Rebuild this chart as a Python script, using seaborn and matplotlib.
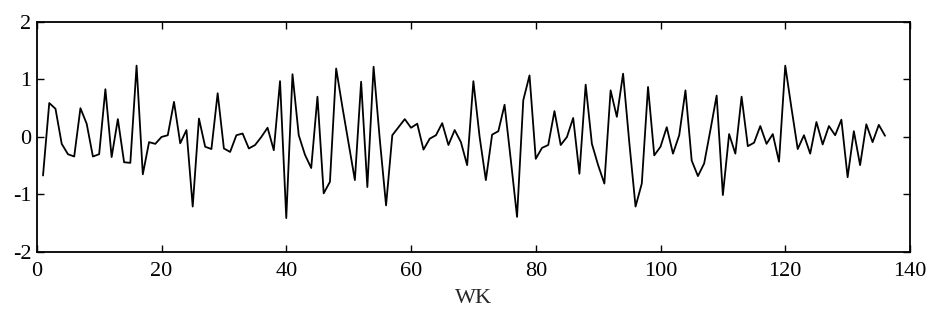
import matplotlib
matplotlib.use("Agg")
import matplotlib.pyplot as plt
import seaborn as sns
import pandas as pd

weeks = list(range(1, 137))
values = [
    -0.67, 0.59, 0.49, -0.12, -0.30, -0.34, 0.50, 0.23, -0.34, -0.30,
    0.83, -0.35, 0.31, -0.44, -0.45, 1.24, -0.65, -0.09, -0.12, 0.00,
    0.03, 0.61, -0.11, 0.12, -1.21, 0.32, -0.17, -0.21, 0.76, -0.20,
    -0.26, 0.03, 0.06, -0.20, -0.14, 0.00, 0.16, -0.23, 0.97, -1.41,
    1.09, 0.03, -0.31, -0.54, 0.70, -0.98, -0.78, 1.19, 0.52, -0.12,
    -0.75, 0.96, -0.87, 1.22, -0.05, -1.19, 0.03, 0.17, 0.31, 0.16,
    0.23, -0.22, -0.03, 0.03, 0.24, -0.14, 0.12, -0.09, -0.49, 0.97,
    0.00, -0.75, 0.04, 0.10, 0.56, -0.40, -1.39, 0.64, 1.07, -0.38,
    -0.19, -0.14, 0.45, -0.14, 0.00, 0.33, -0.64, 0.91, -0.12, -0.49,
    -0.81, 0.81, 0.35, 1.10, -0.10, -1.21, -0.81, 0.87, -0.32, -0.17,
    0.17, -0.29, 0.03, 0.81, -0.41, -0.68, -0.46, 0.12, 0.72, -1.01,
    0.05, -0.29, 0.70, -0.16, -0.10, 0.19, -0.12, 0.05, -0.43, 1.24,
    0.50, -0.21, 0.03, -0.29, 0.26, -0.13, 0.19, 0.03, 0.30, -0.70,
    0.10, -0.49, 0.22, -0.09, 0.21, 0.02,
]
x_ticks = [0, 20, 40, 60, 80, 100, 120, 140]
y_ticks = [-2, -1, 0, 1, 2]
x_label = "WK"

sns.set_style("ticks")
plt.rcParams["font.family"] = ["Liberation Serif", "DejaVu Serif"]
plt.rcParams["axes.unicode_minus"] = False

df = pd.DataFrame({"WK": weeks, "value": values})

fig = plt.figure(figsize=(9.43, 3.2), dpi=100)
ax = fig.add_axes([0.039, 0.2125, 0.926, 0.719])
sns.lineplot(data=df, x="WK", y="value", ax=ax, color="black", linewidth=1.3)

ax.set_xlim(0, 140)
ax.set_ylim(-2, 2)
ax.set_xticks(x_ticks)
ax.set_yticks(y_ticks)
ax.set_xticklabels([str(t) for t in x_ticks])
ax.set_yticklabels([str(t) for t in y_ticks])
ax.tick_params(direction="in", length=5, width=1, top=True, right=True,
               labelsize=16, colors="black")
ax.tick_params(axis="x", pad=7)
ax.tick_params(axis="y", pad=4)
for s in ax.spines.values():
    s.set_visible(True)
    s.set_color("black")
    s.set_linewidth(1.3)
ax.set_xlabel(x_label, fontsize=16, labelpad=6)
ax.set_ylabel("")

fig.savefig("out.png", dpi=100)
